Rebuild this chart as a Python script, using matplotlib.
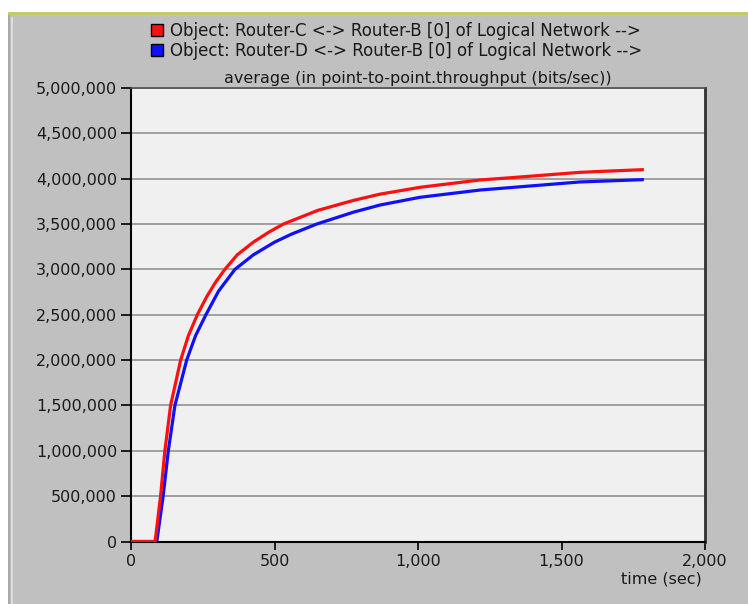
import matplotlib
matplotlib.use("Agg")
import matplotlib.pyplot as plt
from matplotlib.patches import Rectangle, Patch
from matplotlib.ticker import FuncFormatter

# values
series_labels = [
    "Object: Router-C <-> Router-B [0] of Logical Network -->",
    "Object: Router-D <-> Router-B [0] of Logical Network -->",
]
series_colors = ["#ff1010", "#1010ff"]

red_t = [0, 84, 103, 118, 138, 173, 200, 231, 264, 295, 327, 370, 426, 480, 531, 650, 774, 868,
         1007, 1216, 1320, 1564, 1634, 1787]
red_v = [0, 0, 500000, 1000000, 1500000, 2000000, 2270000, 2500000, 2700000, 2860000, 3000000,
         3160000, 3300000, 3410000, 3500000, 3650000, 3760000, 3830000, 3905000, 3986000,
         4010000, 4070000, 4080000, 4100000]

blue_t = [0, 90, 112, 130, 153, 194, 225, 261, 305, 362, 426, 500, 560, 647, 774, 868, 1007,
          1216, 1564, 1634, 1787]
blue_v = [0, 0, 500000, 1000000, 1500000, 2000000, 2270000, 2500000, 2760000, 3000000, 3160000,
          3300000, 3390000, 3500000, 3630000, 3710000, 3795000, 3875000, 3964000, 3972000, 3990000]

x_ticks = [0, 500, 1000, 1500, 2000]
y_ticks = list(range(0, 5000001, 500000))

title = "average (in point-to-point.throughput (bits/sec))"
x_label = "time (sec)"

W, H = 748, 604
txt = "#1a1a1a"
fs = 11.5


def main():
    fig = plt.figure(figsize=(W / 100, H / 100), dpi=100)
    fig.patch.set_facecolor("white")

    # grey panel behind the chart
    fig.patches.append(Rectangle((8 / W, 0), 1, (H - 13) / H, transform=fig.transFigure,
                                 facecolor="#c0c0c0", edgecolor="none", zorder=-3))
    fig.patches.append(Rectangle((8 / W, (H - 15) / H), 1, 3 / H, transform=fig.transFigure,
                                 facecolor="#c4ca6c", edgecolor="none", zorder=-2))
    fig.patches.append(Rectangle((8 / W, 0), 2 / W, (H - 15) / H, transform=fig.transFigure,
                                 facecolor="#a9a9a9", edgecolor="none", zorder=-2))
    fig.patches.append(Rectangle((11 / W, 0), 2 / W, (H - 17) / H, transform=fig.transFigure,
                                 facecolor="#dcdcdc", edgecolor="none", zorder=-2))

    ax = fig.add_axes([131 / W, 62.5 / H, 574 / W, 453.5 / H])
    ax.set_zorder(5)
    ax.set_facecolor("#f0f0f0")

    ax.plot(red_t, red_v, color=series_colors[0], lw=2.3, zorder=3, solid_capstyle="butt")
    ax.plot(blue_t, blue_v, color=series_colors[1], lw=2.3, zorder=2, solid_capstyle="butt")

    ax.set_xlim(0, 2000)
    ax.set_ylim(0, 5000000)
    ax.set_xticks(x_ticks)
    ax.set_yticks(y_ticks)
    ax.xaxis.set_major_formatter(FuncFormatter(lambda v, p: f"{v:,.0f}"))
    ax.yaxis.set_major_formatter(FuncFormatter(lambda v, p: f"{v:,.0f}"))
    ax.yaxis.grid(True, color="#9a9a9a", lw=1.3)
    ax.set_axisbelow(True)

    ax.tick_params(axis="both", direction="out", colors="black", labelcolor=txt,
                   labelsize=fs, width=1.2)
    ax.tick_params(axis="y", length=7, pad=3)
    ax.tick_params(axis="x", length=6, pad=3)

    for side in ["left", "bottom"]:
        ax.spines[side].set_color("black")
        ax.spines[side].set_linewidth(1.5)
    ax.spines["right"].set_color("#303030")
    ax.spines["right"].set_linewidth(2)
    ax.spines["top"].set_color("#505050")
    ax.spines["top"].set_linewidth(1.2)

    fig.text(418 / W, 1 - 78 / H, title, ha="center", va="center", fontsize=fs, color=txt)
    fig.text(702 / W, 1 - 579 / H, x_label, ha="right", va="center", fontsize=fs, color=txt)

    handles = [Patch(facecolor=c, edgecolor="black", lw=1) for c in series_colors]
    fig.legend(handles, series_labels, loc="upper left", bbox_to_anchor=(151 / W, 1 - 22 / H),
               frameon=False, fontsize=12, handlelength=0.72, handleheight=0.72,
               handletextpad=0.45, labelspacing=0.1, borderpad=0, borderaxespad=0,
               labelcolor=txt)

    fig.savefig("out.png", dpi=100)


if __name__ == "__main__":
    main()
